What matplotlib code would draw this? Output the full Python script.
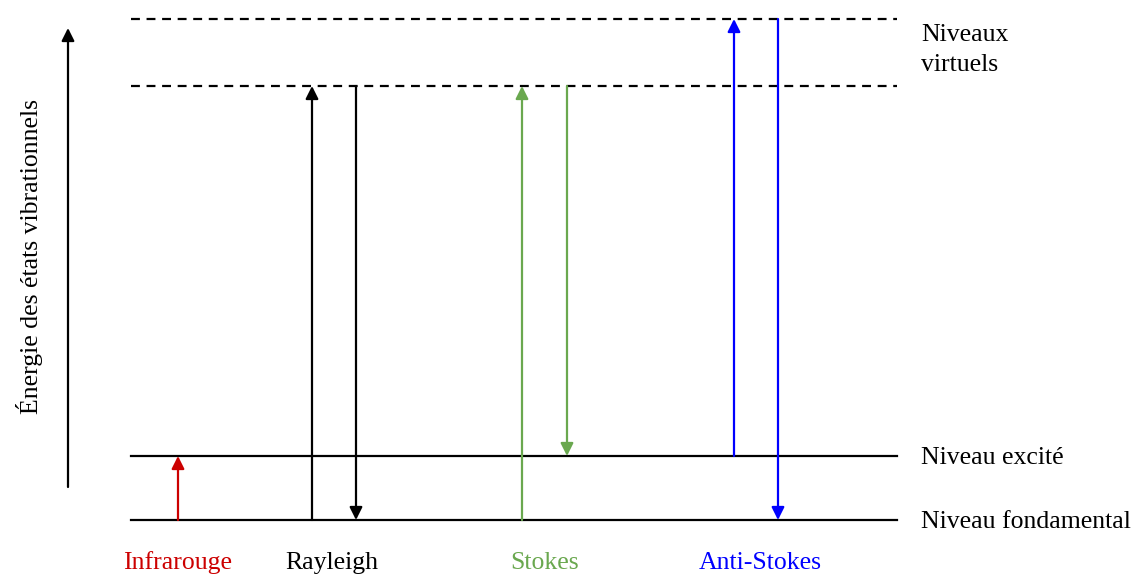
import matplotlib.pyplot as plt

plt.rcParams['font.family'] = ['Liberation Serif', 'DejaVu Serif']

# energy levels (image units, top = 0)
level_names = ['Niveau fondamental', 'Niveau excité', 'virtuel 1', 'virtuel 2']
level_y = [520, 456, 86, 19]
level_style = ['-', '-', '--', '--']

# transitions: x, start level, end level, colour
trans_x = [178, 312, 356, 522, 567, 734, 778]
trans_from = [0, 0, 2, 0, 2, 1, 3]
trans_to = [1, 2, 0, 2, 1, 3, 0]
trans_col = ['#cc0000', 'black', 'black', '#6aa84f', '#6aa84f', 'blue', 'blue']

groups = ['Infrarouge', 'Rayleigh', 'Stokes', 'Anti-Stokes']
group_x = [178, 332, 545, 760]
group_col = ['#cc0000', 'black', '#6aa84f', 'blue']

fs = 18.5

fig = plt.figure(figsize=(11.31, 5.74), dpi=100)
ax = fig.add_axes([0, 0, 1, 1])
ax.set_xlim(0, 1131)
ax.set_ylim(574, 0)
ax.axis('off')

for y, ls in zip(level_y, level_style):
    ax.plot([131, 897], [y, y], color='black', lw=1.6, ls=ls,
            dashes=(4, 3) if ls == '--' else (None, None))

for x, a, b, c in zip(trans_x, trans_from, trans_to, trans_col):
    ax.annotate('', xy=(x, level_y[b]), xytext=(x, level_y[a]),
                arrowprops=dict(arrowstyle='-|>', color=c, lw=1.6,
                                mutation_scale=19, shrinkA=0, shrinkB=0))

# energy axis
ax.annotate('', xy=(68, 28), xytext=(68, 487),
            arrowprops=dict(arrowstyle='-|>', color='black', lw=1.6,
                            mutation_scale=19, shrinkA=0, shrinkB=0))
ax.text(30, 257, 'Énergie des états vibrationnels', rotation=90,
        ha='center', va='center', fontsize=fs)

for name, x, c in zip(groups, group_x, group_col):
    ax.text(x, 563, name, color=c, ha='center', va='center', fontsize=fs)

ax.text(921, 50, 'Niveaux\nvirtuels', ha='left', va='center', fontsize=fs,
        linespacing=1.45)
ax.text(921, level_y[1] + 2, 'Niveau excité', ha='left', va='center', fontsize=fs)
ax.text(921, level_y[0] + 2, 'Niveau fondamental', ha='left', va='center', fontsize=fs)

fig.savefig('out.png', dpi=100)
